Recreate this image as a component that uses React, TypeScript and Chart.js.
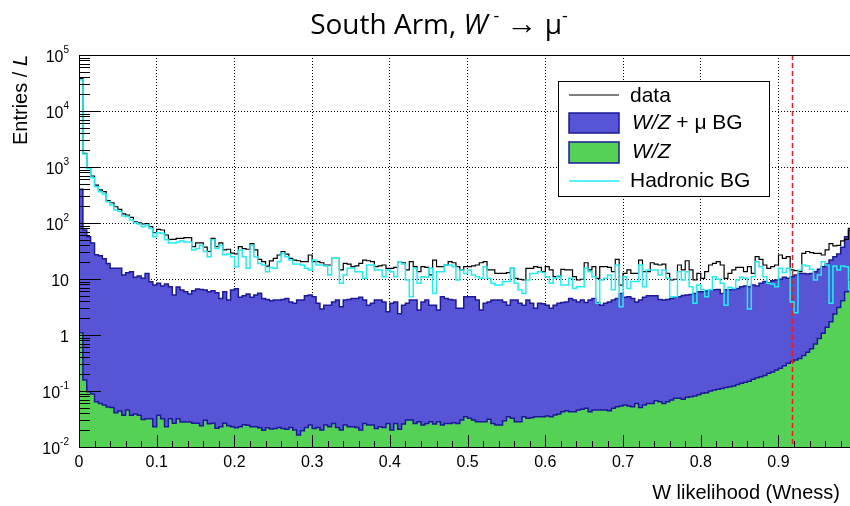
import React, { useEffect, useRef } from 'react';
import { Chart, registerables } from 'chart.js';

Chart.register(...registerables);

// ---- Axis definitions ----
const BIN_WIDTH = 0.005;
const X_MIN = 0;
const X_MAX = 0.992;
const Y_MIN = 0.01;
const Y_MAX = 1e5;
const X_MAJOR_TICKS = [0, 0.1, 0.2, 0.3, 0.4, 0.5, 0.6, 0.7, 0.8, 0.9];
const X_TICK_LABELS = ['0', '0.1', '0.2', '0.3', '0.4', '0.5', '0.6', '0.7', '0.8', '0.9'];
const Y_MAJOR_TICKS = [0.01, 0.1, 1, 10, 100, 1000, 10000, 100000];
const Y_TICK_BASES = ['10', '10', '1', '10', '10', '10', '10', '10'];
const Y_TICK_EXPONENTS = ['-2', '-1', '', '', '2', '3', '4', '5'];
const WNESS_CUT = 0.918;

// ---- Histogram contents (200 bins of width 0.005, starting at 0) ----
const dataCounts = [
  38000, 1750, 960, 690, 475, 390, 362, 250, 230, 195,
  175, 145, 139, 126, 105, 101, 96, 98, 86, 67,
  77, 75, 61, 51, 51, 53, 53, 55, 55, 38,
  44, 44, 37, 31, 53, 38, 44, 33, 34, 29,
  28, 38, 35, 34, 43, 33, 22.5, 20.4, 17, 21,
  23.4, 26.8, 31, 27.9, 23.4, 21.8, 21.2, 20.4, 20.4, 26.8,
  20.4, 20.4, 19.5, 17.8, 17.8, 23.4, 23.4, 14.5, 19.0, 18.5,
  16.6, 17.1, 19.0, 21.8, 21.2, 20.4, 16.6, 17.1, 17.8, 15.5,
  15.5, 16.1, 20.4, 19.5, 14.5, 20.4, 16.6, 13.5, 16.6, 16.1,
  11.8, 21.8, 16.6, 16.6, 17.8, 20.4, 19.5, 16.6, 14.5, 16.6,
  16.6, 17.1, 17.8, 19.5, 20.4, 14.5, 14.5, 12.6, 12.6, 12.6,
  13.0, 15.5, 10.3, 9.9, 9.6, 15.5, 15.5, 16.6, 16.1, 13.5,
  16.6, 14.5, 11.0, 11.0, 14.9, 14.5, 14.5, 11.0, 9.6, 9.9,
  19.5, 14.5, 16.6, 10.3, 16.6, 16.6, 16.1, 13.5, 22.4, 7.8,
  12.6, 14.5, 12.6, 12.6, 21.8, 13.5, 13.5, 19.5, 18.5, 17.8,
  18.5, 12.6, 9.6, 9.9, 17.8, 14.5, 21.2, 14.5, 9.6, 12.6,
  10.3, 13.5, 17.8, 19.0, 20.4, 17.8, 10.3, 12.6, 14.5, 16.1,
  16.1, 13.5, 16.6, 12.6, 25.0, 22.4, 17.8, 15.5, 16.6, 17.8,
  26.8, 23.4, 25.0, 14.5, 14.1, 13.5, 28.7, 31, 29.5, 28.7,
  28.7, 26.8, 33, 43, 39, 40, 48, 51, 80, 86,
];

const wzMuBG = [
  400, 75, 57, 44, 27, 26, 23, 19, 15.5, 15.5,
  15.5, 11.8, 12.9, 13.5, 10.7, 11.3, 10.3, 12.6, 8.9, 7.8,
  8.4, 7.5, 8.1, 7.3, 5.2, 7.2, 6.35, 5.9, 5.4, 6.2,
  6.6, 6.5, 6.35, 5.9, 6.2, 5.7, 4.5, 5.9, 4.2, 6.35,
  6.7, 4.7, 5.0, 5.4, 4.7, 5.2, 5.55, 4.5, 4.3, 4.1,
  4.2, 4.2, 4.3, 4.5, 3.9, 3.7, 4.2, 4.2, 5.0, 5.2,
  4.8, 3.7, 2.9, 3.4, 3.4, 3.9, 4.2, 3.2, 4.2, 4.3,
  4.5, 4.5, 4.7, 4.2, 3.4, 3.7, 4.2, 4.2, 3.9, 2.6,
  3.7, 3.9, 2.4, 3.4, 3.7, 4.2, 4.2, 2.8, 3.9, 4.2,
  3.4, 3.4, 2.8, 4.8, 4.5, 4.3, 4.2, 3.0, 3.0, 4.8,
  4.8, 4.8, 4.2, 2.8, 3.7, 3.9, 4.2, 4.2, 4.2, 3.9,
  3.4, 4.2, 4.2, 3.7, 3.4, 4.2, 3.7, 3.0, 3.7, 3.6,
  3.4, 3.0, 3.4, 3.7, 3.8, 3.9, 4.5, 4.2, 3.9, 4.2,
  3.8, 4.2, 4.5, 3.8, 3.4, 3.7, 3.9, 4.2, 4.5, 5.5,
  4.7, 4.8, 4.5, 3.9, 4.2, 4.7, 5.0, 5.0, 5.0, 4.3,
  4.2, 4.3, 4.5, 4.8, 4.8, 5.1, 5.2, 5.3, 5.5, 5.9,
  5.9, 6.1, 6.4, 6.4, 6.5, 5.5, 6.4, 6.4, 6.5, 6.8,
  7.3, 7.5, 7.3, 7.8, 7.5, 8.4, 9.0, 8.6, 9.3, 9.6,
  9.9, 10.7, 10.3, 11.0, 11.8, 12.6, 12.6, 12.3, 12.6, 13.5,
  14.9, 16.6, 18.5, 21.8, 25.0, 27.9, 37, 57, 75, 86,
];

const wzOnly = [
  1.1, 0.157, 0.097, 0.088, 0.064, 0.060, 0.056, 0.052, 0.051, 0.041,
  0.044, 0.037, 0.046, 0.037, 0.039, 0.037, 0.031, 0.032, 0.032, 0.023,
  0.037, 0.032, 0.023, 0.032, 0.0265, 0.032, 0.028, 0.028, 0.028, 0.0265,
  0.0265, 0.024, 0.030, 0.026, 0.0265, 0.0216, 0.023, 0.0265, 0.024, 0.023,
  0.022, 0.023, 0.025, 0.0245, 0.023, 0.023, 0.022, 0.020, 0.022, 0.021,
  0.0215, 0.0224, 0.0215, 0.0207, 0.0224, 0.0201, 0.0164, 0.0196, 0.0224, 0.0247,
  0.0215, 0.0224, 0.0201, 0.0247, 0.0231, 0.0264, 0.0224, 0.0201, 0.0247, 0.0231,
  0.0231, 0.0224, 0.0201, 0.0264, 0.0247, 0.0247, 0.0215, 0.0231, 0.0224, 0.0264,
  0.0201, 0.0264, 0.0207, 0.0257, 0.0303, 0.0303, 0.0264, 0.0283, 0.0247, 0.0264,
  0.0283, 0.0257, 0.0283, 0.0247, 0.0264, 0.0264, 0.0272, 0.0264, 0.0303, 0.0348,
  0.0325, 0.0303, 0.0283, 0.0283, 0.0283, 0.0312, 0.0264, 0.0247, 0.0247, 0.0295,
  0.0348, 0.0325, 0.0283, 0.0283, 0.0348, 0.0325, 0.0334, 0.0348, 0.0348, 0.0348,
  0.0357, 0.0348, 0.0372, 0.0388, 0.0427, 0.0445, 0.0427, 0.0427, 0.0457, 0.047,
  0.049, 0.0427, 0.0457, 0.0457, 0.0457, 0.0457, 0.0445, 0.049, 0.0525, 0.054,
  0.056, 0.054, 0.0525, 0.060, 0.051, 0.056, 0.060, 0.060, 0.067, 0.064,
  0.060, 0.064, 0.069, 0.074, 0.074, 0.071, 0.077, 0.079, 0.081, 0.086,
  0.091, 0.093, 0.100, 0.104, 0.107, 0.111, 0.116, 0.119, 0.123, 0.130,
  0.137, 0.143, 0.149, 0.162, 0.173, 0.180, 0.190, 0.207, 0.218, 0.237,
  0.254, 0.283, 0.312, 0.338, 0.357, 0.38, 0.43, 0.49, 0.57, 0.69,
  0.87, 1.07, 1.37, 1.73, 2.37, 3.1, 4.1, 5.9, 9.6, 14.5,
];

const hadronicBG = [
  36000, 1700, 940, 640, 445, 362, 330, 240, 210, 170,
  160, 134, 130, 113, 101, 96, 86, 92, 80, 57,
  67, 65, 50, 44, 44, 46, 48, 46, 46, 33,
  35, 40, 31, 25, 50, 35, 40, 27, 28, 25,
  16.6, 33, 25, 15.5, 40, 25, 19, 17.8, 13.5, 16,
  15.5, 20.4, 28.7, 25.0, 21.8, 18.5, 18.5, 17.8, 15.5, 14.5,
  21.8, 17.8, 17.8, 17.1, 11.8, 23.4, 23.4, 8.4, 11.8, 15.5,
  15.5, 13.5, 13.5, 10.3, 17.8, 17.8, 14.5, 14.5, 11.0, 14.5,
  13.5, 11.0, 20.4, 18.5, 9.6, 4.8, 15.5, 8.4, 11.0, 10.7,
  15.5, 5.5, 13.5, 13.5, 17.8, 17.8, 16.6, 9.6, 14.5, 12.6,
  14.5, 11.8, 11.0, 10.3, 16.6, 10.3, 8.4, 7.8, 7.8, 9.0,
  9.0, 15.5, 8.4, 6.4, 5.5, 9.6, 12.6, 12.6, 13.5, 13.0,
  11.0, 8.4, 10.3, 11.3, 7.8, 7.8, 10.3, 6.8, 7.3, 7.3,
  15.5, 13.5, 11.0, 3.7, 9.6, 10.3, 11.8, 6.4, 17.8, 3.2,
  11.0, 6.8, 9.0, 9.0, 17.8, 7.3, 14.5, 14.5, 14.5, 11.8,
  14.5, 10.3, 4.8, 4.8, 13.5, 9.6, 13.5, 7.3, 3.7, 7.8,
  6.4, 4.8, 6.4, 11.0, 9.9, 8.4, 3.4, 7.1, 6.8, 9.6,
  10.7, 10.3, 2.9, 11.0, 20.4, 16.6, 11.0, 8.4, 8.1, 7.3,
  15.5, 13.0, 15.5, 3.9, 2.5, 14.5, 17.8, 17.1, 14.9, 9.6,
  11.8, 20.4, 17.8, 3.7, 17.1, 14.5, 17.1, 16.6, 6.4, 16.6,
];

// ---- Styles ----
const COLOR_WZMU = '#5854d6';
const COLOR_WZ = '#55d155';
const COLOR_EDGE = '#1c1a98';
const COLOR_CYAN = '#22ecf4';
const FONT = '"Liberation Sans", Arial, sans-serif';

const toSteps = (vals: number[]) => {
  const pts = vals.map((v, i) => ({ x: i * BIN_WIDTH, y: v }));
  pts.push({ x: vals.length * BIN_WIDTH, y: vals[vals.length - 1] });
  return pts;
};

const rootPlugin = {
  id: 'rootStyle',
  afterDatasetsDraw(chart: any) {
    const { ctx, chartArea: a, scales } = chart;
    const xs = scales.x;
    const ys = scales.y;
    ctx.save();
    // cut line
    const xc = xs.getPixelForValue(WNESS_CUT);
    ctx.strokeStyle = '#e81c1c';
    ctx.lineWidth = 1.5;
    ctx.setLineDash([5, 3]);
    ctx.beginPath();
    ctx.moveTo(xc, a.top);
    ctx.lineTo(xc, a.bottom);
    ctx.stroke();
    ctx.setLineDash([]);

    // ticks
    ctx.strokeStyle = '#000';
    ctx.lineWidth = 1;
    ctx.beginPath();
    for (let k = 0; k <= 60; k++) {
      const v = k * 0.02;
      if (v > X_MAX) break;
      const px = Math.round(xs.getPixelForValue(v)) + 0.5;
      const len = k % 5 === 0 ? 12 : 6;
      ctx.moveTo(px, a.bottom);
      ctx.lineTo(px, a.bottom - len);
    }
    for (let d = -2; d <= 5; d++) {
      for (let m = 1; m <= 9; m++) {
        const v = m * Math.pow(10, d);
        if (v > Y_MAX * 1.0001) break;
        const py = Math.round(ys.getPixelForValue(v)) + 0.5;
        const len = m === 1 ? 22 : 11;
        ctx.moveTo(a.left, py);
        ctx.lineTo(a.left + len, py);
      }
    }
    ctx.stroke();

    // frame
    ctx.strokeStyle = '#000';
    ctx.lineWidth = 1;
    ctx.strokeRect(Math.round(a.left) + 0.5, Math.round(a.top) + 0.5, a.right - a.left + 2, a.bottom - a.top);
    ctx.restore();
  },
  afterDraw(chart: any) {
    const { ctx, chartArea: a, scales } = chart;
    const ys = scales.y;
    ctx.save();
    ctx.fillStyle = '#000';
    // y tick labels with superscripts
    Y_MAJOR_TICKS.forEach((v, i) => {
      const y = ys.getPixelForValue(v);
      const base = Y_TICK_BASES[i];
      const exp = Y_TICK_EXPONENTS[i];
      const right = a.left - 10;
      ctx.textAlign = 'right';
      ctx.textBaseline = 'middle';
      let we = 0;
      if (exp) {
        ctx.font = `10px ${FONT}`;
        we = ctx.measureText(exp).width;
        ctx.fillText(exp, right, y - 5);
      }
      ctx.font = `16px ${FONT}`;
      ctx.fillText(base, right - we, y + 3);
    });

    // x axis title
    ctx.font = `20px ${FONT}`;
    ctx.textAlign = 'right';
    ctx.textBaseline = 'middle';
    ctx.fillText('W likelihood (Wness)', 840, 493);

    // y axis title (rotated, aligned to the top)
    ctx.save();
    ctx.translate(21, a.top);
    ctx.rotate(-Math.PI / 2);
    ctx.textBaseline = 'middle';
    ctx.textAlign = 'left';
    ctx.font = `italic 20px ${FONT}`;
    const wL = ctx.measureText('L').width;
    ctx.font = `20px ${FONT}`;
    const p1 = 'Entries / ';
    const w1 = ctx.measureText(p1).width;
    ctx.fillText(p1, -(w1 + wL), 0);
    ctx.font = `italic 20px ${FONT}`;
    ctx.fillText('L', -wL, 0);
    ctx.restore();

    // legend
    const lx = 558, ly = 81, lw = 211, lh = 115;
    ctx.fillStyle = '#fff';
    ctx.fillRect(lx, ly, lw, lh);
    ctx.strokeStyle = '#000';
    ctx.lineWidth = 1;
    ctx.strokeRect(lx + 0.5, ly + 0.5, lw, lh);

    const sx = 569, sw = 50, tx = 630;
    // data line
    ctx.strokeStyle = '#000';
    ctx.lineWidth = 1.2;
    ctx.beginPath();
    ctx.moveTo(sx, 95);
    ctx.lineTo(sx + sw, 95);
    ctx.stroke();
    // boxes
    ctx.lineWidth = 1.5;
    ctx.fillStyle = COLOR_WZMU;
    ctx.fillRect(sx, 113, sw, 20);
    ctx.strokeStyle = COLOR_EDGE;
    ctx.strokeRect(sx, 113, sw, 20);
    ctx.fillStyle = COLOR_WZ;
    ctx.fillRect(sx, 142, sw, 21);
    ctx.strokeRect(sx, 142, sw, 21);
    // hadronic line
    ctx.strokeStyle = COLOR_CYAN;
    ctx.lineWidth = 1.5;
    ctx.beginPath();
    ctx.moveTo(sx, 181);
    ctx.lineTo(sx + sw, 181);
    ctx.stroke();

    ctx.fillStyle = '#000';
    ctx.textAlign = 'left';
    ctx.textBaseline = 'middle';
    ctx.font = `21px ${FONT}`;
    ctx.fillText('data', tx, 96);
    ctx.font = `italic 21px ${FONT}`;
    ctx.fillText('W/Z', tx + 2, 123);
    const wwz = ctx.measureText('W/Z').width;
    ctx.font = `21px ${FONT}`;
    ctx.fillText(' + \u03bc BG', tx + 2 + wwz, 123);
    ctx.font = `italic 21px ${FONT}`;
    ctx.fillText('W/Z', tx + 2, 152);
    ctx.font = `21px ${FONT}`;
    ctx.fillText('Hadronic BG', tx, 181);
    ctx.restore();
  },
};

export default function App() {
  const ref = useRef<HTMLCanvasElement>(null);
  useEffect(() => {
    if (!ref.current) return;
    const chart = new Chart(ref.current, {
      type: 'line',
      data: {
        datasets: [
          {
            label: 'Hadronic BG',
            data: toSteps(hadronicBG),
            stepped: 'before',
            fill: false,
            borderColor: COLOR_CYAN,
            borderWidth: 1.5,
            pointRadius: 0,
            order: 0,
          },
          {
            label: 'data',
            data: toSteps(dataCounts),
            stepped: 'before',
            fill: false,
            borderColor: '#000',
            borderWidth: 1.2,
            pointRadius: 0,
            order: 1,
          },
          {
            label: 'W/Z',
            data: toSteps(wzOnly),
            stepped: 'before',
            fill: 'start',
            backgroundColor: COLOR_WZ,
            borderColor: COLOR_EDGE,
            borderWidth: 1.5,
            pointRadius: 0,
            order: 2,
          },
          {
            label: 'W/Z + \u03bc BG',
            data: toSteps(wzMuBG),
            stepped: 'before',
            fill: 'start',
            backgroundColor: COLOR_WZMU,
            borderColor: COLOR_EDGE,
            borderWidth: 1.5,
            pointRadius: 0,
            order: 3,
          },
        ] as any,
      },
      options: {
        animation: false,
        responsive: false,
        devicePixelRatio: 1,
        layout: { padding: { top: 55, left: 0, right: 0, bottom: 0 } },
        plugins: {
          legend: { display: false },
          tooltip: { enabled: false },
          title: { display: false },
        },
        scales: {
          x: {
            type: 'linear',
            min: X_MIN,
            max: X_MAX,
            afterBuildTicks: (s: any) => {
              s.ticks = X_MAJOR_TICKS.map((v) => ({ value: v }));
            },
            afterFit: (s: any) => {
              s.height = 59;
            },
            grid: { color: '#000', lineWidth: 1, drawTicks: false },
            border: { display: false, dash: [1, 2] },
            ticks: {
              autoSkip: false,
              maxRotation: 0,
              padding: 6,
              color: '#000',
              font: { family: FONT, size: 16 },
              callback: (_v: any, i: number) => X_TICK_LABELS[i],
            },
          },
          y: {
            type: 'logarithmic',
            min: Y_MIN,
            max: Y_MAX,
            afterBuildTicks: (s: any) => {
              s.ticks = Y_MAJOR_TICKS.map((v) => ({ value: v }));
            },
            afterFit: (s: any) => {
              s.width = 79;
            },
            grid: { color: '#000', lineWidth: 1, drawTicks: false },
            border: { display: false, dash: [1, 2] },
            ticks: { display: false },
          },
        },
      } as any,
      plugins: [rootPlugin],
    });
    return () => chart.destroy();
  }, []);

  return (
    <div
      style={{
        position: 'fixed',
        left: 0,
        top: 0,
        width: 850,
        height: 506,
        background: '#fff',
        overflow: 'hidden',
      }}
    >
      <canvas
        ref={ref}
        width={850}
        height={506}
        style={{ position: 'absolute', left: 0, top: 0, width: 850, height: 506 }}
      />
      <div
        style={{
          position: 'absolute',
          left: 439,
          top: 1,
          transform: 'translateX(-50%)',
          whiteSpace: 'nowrap',
          fontFamily: '"Open Sans", "Noto Sans", sans-serif',
          fontSize: 28,
          lineHeight: '42px',
          color: '#000',
        }}
      >
        South Arm, <i>W</i>
        <span style={{ fontSize: 18, position: 'relative', top: -12, marginLeft: 6 }}>-</span>{' '}
        <span style={{ fontSize: 31 }}>→</span> μ
        <span style={{ fontSize: 18, position: 'relative', top: -12 }}>-</span>
      </div>
    </div>
  );
}
